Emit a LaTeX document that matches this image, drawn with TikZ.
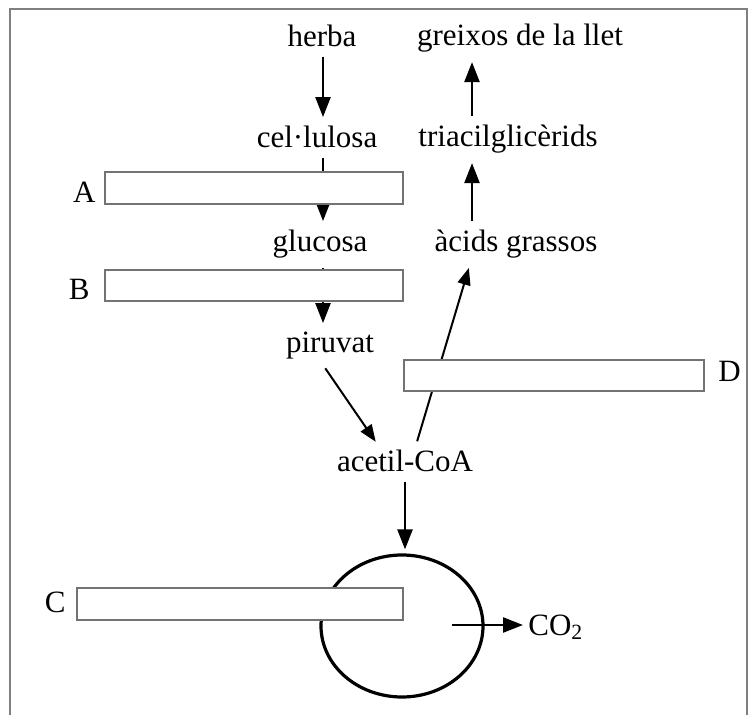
\documentclass[tikz,border=0pt]{standalone}
\usepackage{fontspec}
\setmainfont{Liberation Serif}
\usetikzlibrary{arrows.meta,shapes.geometric}
\tikzset{
  txt/.style={anchor=base, inner sep=2.5pt, font=\fontsize{15.5}{18}\selectfont},
  arr/.style={line width=1.2pt, shorten <=2pt, shorten >=2pt, -{Triangle[length=10pt,width=7.5pt]}},
  slim/.style={line width=1pt, shorten <=2pt, shorten >=2pt, -{Triangle[length=8.5pt,width=6.5pt]}},
  gapbox/.style={draw=black!55, line width=1pt, fill=white, anchor=north west, inner sep=0pt},
}
\begin{document}
\begin{tikzpicture}[x=0.5pt,y=-0.5pt]
  \useasboundingbox (0,0) rectangle (749,715);
  \clip (0,0) rectangle (749,715);
  \draw[black!50, line width=1pt] (10,9) rectangle (747,760);

  % metabolits
  \node[txt] (herba) at (322,47) {herba};
  \node[txt] (cellulosa) at (317,148) {cel·lulosa};
  \node[txt] (glucosa) at (320,252) {glucosa};
  \node[txt] (piruvat) at (330,353) {piruvat};
  \node[txt] (acetil) at (405,472) {acetil-CoA};
  \node[txt] (greixos) at (520,46) {greixos de la llet};
  \node[txt] (triacil) at (508,147) {triacilglicèrids};
  \node[txt] (acids) at (516,252) {àcids grassos};
  \node[txt, anchor=base west] (co2) at (523,635) {CO\textsubscript{2}};
  \node[draw, ellipse, line width=1.6pt, inner sep=0pt,
        minimum width=81pt, minimum height=71pt] (cycle) at (402,626) {};

  \coordinate (axis) at (323,0);
  \coordinate (rightaxis) at (472,0);
  \coordinate (co2start) at (452,625);

  % fletxes
  \draw[arr] (herba.south -| axis) -- (cellulosa.north -| axis);
  \draw[arr] (cellulosa.south -| axis) -- (glucosa.north -| axis);
  \draw[arr] (glucosa.south -| axis) -- (piruvat.north -| axis);
  \draw[slim] ([xshift=-3.5pt]piruvat.south) -- ([xshift=-13.5pt]acetil.north);
  \draw[slim] ([xshift=5.5pt]acetil.north) -- ([xshift=-23pt]acids.south);
  \draw[arr] (acetil.south) -- (acetil.south |- cycle.north);
  \draw[arr] (acids.north -| rightaxis) -- (triacil.south -| rightaxis);
  \draw[arr] (triacil.north -| rightaxis) -- (greixos.south -| rightaxis);
  \draw[arr, shorten <=0pt, shorten >=0pt] (co2start) -- (co2start -| co2.west);

  % caixes
  \node[gapbox, minimum width=149pt, minimum height=16pt] (boxA) at (104,171) {};
  \node[gapbox, minimum width=149pt, minimum height=15.5pt] (boxB) at (104,269) {};
  \node[gapbox, minimum width=150pt, minimum height=15.5pt] (boxD) at (403,359) {};
  \node[gapbox, minimum width=163pt, minimum height=16pt] (boxC) at (76,587) {};
  \node[txt, anchor=base east] (labA) at (101,203) {A};
  \node[txt, anchor=base east] (labB) at (95,300) {B};
  \node[txt, anchor=base east] (labC) at (71,612) {C};
  \node[txt, anchor=base west] (labD) at (713,382) {D};
\end{tikzpicture}
\end{document}
